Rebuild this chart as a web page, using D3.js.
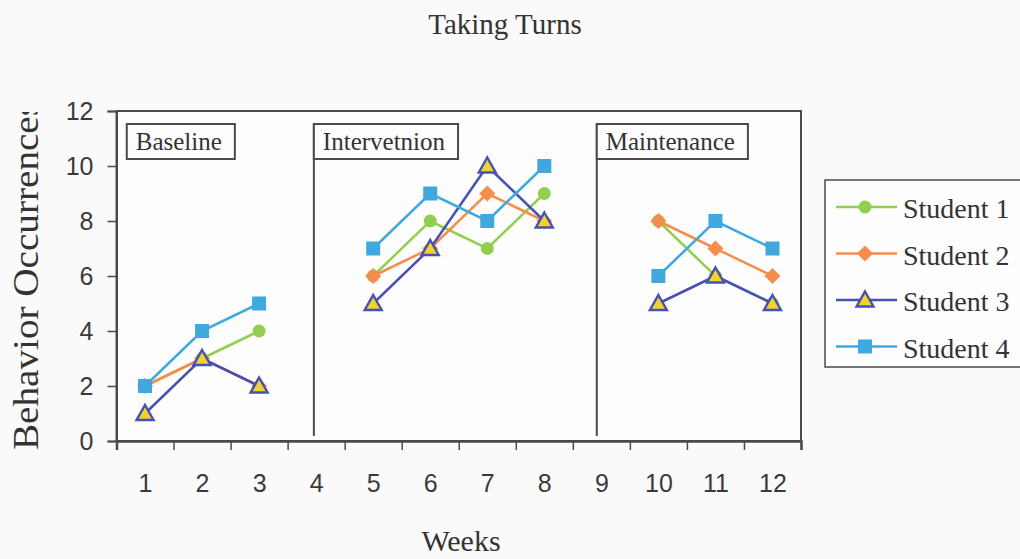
<!DOCTYPE html>
<html>
<head>
<meta charset="utf-8">
<script src="https://cdn.jsdelivr.net/npm/d3@7"></script>
<style>
  html, body { margin: 0; padding: 0; background: #fafafa; }
  svg { display: block; }
</style>
</head>
<body>
<svg id="chart" width="1020" height="559"></svg>
<script>
// ---- data ----
const weeks = [1, 2, 3, 4, 5, 6, 7, 8, 9, 10, 11, 12];
const student1 = [2, 3, 4, null, 6, 8, 7, 9, null, 8, 6, 5];
const student2 = [2, 3, 2, null, 6, 7, 9, 8, null, 8, 7, 6];
const student3 = [1, 3, 2, null, 5, 7, 10, 8, null, 5, 6, 5];
const student4 = [2, 4, 5, null, 7, 9, 8, 10, null, 6, 8, 7];
const seriesNames = ["Student 1", "Student 2", "Student 3", "Student 4"];
const yTicks = [0, 2, 4, 6, 8, 10, 12];
const phaseNames = ["Baseline", "Intervetnion", "Maintenance"];
const phaseLabelAt = [0.68, 3.96, 8.92];   // week position of each phase label box
const phaseLinesAt = [3.96, 8.92];         // week position of phase change lines

const title = "Taking Turns";
const xTitle = "Weeks";
const yTitle = "Behavior Occurrences";

// ---- layout ----
const serif = "'Liberation Serif', 'Times New Roman', serif";
const sans = "'Liberation Sans', Arial, sans-serif";
const textCol = "#333";
const axisCol = "#4a4a4a";
const plot = { left: 116.5, right: 801, top: 111, bottom: 441 };

const styles = [
  { color: "#92cf4e", shape: "circle" },
  { color: "#f58d4c", shape: "diamond" },
  { color: "#4651b3", shape: "triangle", fill: "#f2d428" },
  { color: "#3fa8de", shape: "square" }
];

const svg = d3.select("#chart");
const x = d3.scaleLinear().domain([0.5, 12.5]).range([plot.left, plot.right]);
const y = d3.scaleLinear().domain([0, 12]).range([plot.bottom, plot.top]);

// title
svg.append("text").attr("x", 505).attr("y", 34).attr("text-anchor", "middle")
  .attr("font-family", serif).attr("font-size", 29).attr("fill", textCol).text(title);

// plot frame
svg.append("rect").attr("x", plot.left).attr("y", plot.top)
  .attr("width", plot.right - plot.left).attr("height", plot.bottom - plot.top)
  .attr("fill", "#fdfdfd").attr("stroke", axisCol).attr("stroke-width", 2);

// y axis
const yAxis = svg.append("g").attr("transform", `translate(${plot.left},0)`)
  .call(d3.axisLeft(y).tickValues(yTicks).tickSize(9).tickPadding(14).tickFormat(d3.format("d")));
yAxis.select(".domain").attr("stroke", axisCol).attr("stroke-width", 2);
yAxis.selectAll(".tick line").attr("stroke", axisCol).attr("stroke-width", 1.5);
yAxis.selectAll(".tick text").attr("font-family", sans).attr("font-size", 25).attr("fill", "#3a3a3a");

// x axis: boundary ticks
const xTickAxis = svg.append("g").attr("transform", `translate(0,${plot.bottom})`)
  .call(d3.axisBottom(x).tickValues(d3.range(0.5, 12.6, 1)).tickSize(9).tickFormat(""));
xTickAxis.select(".domain").attr("stroke", axisCol).attr("stroke-width", 2.5);
xTickAxis.selectAll(".tick line").attr("stroke", axisCol).attr("stroke-width", 1.5);
// x axis: labels at category centres
const xLabAxis = svg.append("g").attr("transform", `translate(0,${plot.bottom})`)
  .call(d3.axisBottom(x).tickValues(weeks).tickSize(0).tickPadding(33).tickFormat(d3.format("d")));
xLabAxis.select(".domain").remove();
xLabAxis.selectAll(".tick text").attr("font-family", sans).attr("font-size", 25).attr("fill", "#3a3a3a");

// axis titles
svg.append("text").attr("x", 461).attr("y", 551).attr("text-anchor", "middle")
  .attr("font-family", serif).attr("font-size", 30).attr("fill", textCol).text(xTitle);

svg.append("clipPath").attr("id", "yclip").append("rect")
  .attr("x", 0).attr("y", 112).attr("width", 100).attr("height", 400);
svg.append("g").attr("clip-path", "url(#yclip)")
  .append("text")
  .attr("transform", "translate(38,450) rotate(-90)")
  .attr("text-anchor", "start")
  .attr("font-family", serif).attr("font-size", 35).attr("fill", textCol)
  .attr("textLength", 349).attr("lengthAdjust", "spacingAndGlyphs")
  .text(yTitle);

// phase lines
svg.selectAll(".phase-line").data(phaseLinesAt).enter().append("line")
  .attr("x1", d => x(d)).attr("x2", d => x(d))
  .attr("y1", 124).attr("y2", 436)
  .attr("stroke", axisCol).attr("stroke-width", 2);

// phase label boxes
phaseNames.forEach((name, i) => {
  const g = svg.append("g");
  const bx = x(phaseLabelAt[i]);
  const rect = g.append("rect").attr("x", bx).attr("y", 124).attr("height", 35)
    .attr("fill", "#fdfdfd").attr("stroke", axisCol).attr("stroke-width", 2);
  const t = g.append("text").attr("x", bx + 9).attr("y", 150)
    .attr("font-family", serif).attr("font-size", 25).attr("fill", textCol).text(name);
  const w = t.node().getComputedTextLength();
  rect.attr("width", w + 22);
});

// markers
function drawMarker(sel, shape, color, fill) {
  if (shape === "circle") {
    sel.append("circle").attr("r", 6.5).attr("fill", color);
  } else if (shape === "square") {
    sel.append("rect").attr("x", -7).attr("y", -7).attr("width", 14).attr("height", 14).attr("fill", color);
  } else if (shape === "diamond") {
    sel.append("path").attr("d", "M0,-8L8,0L0,8L-8,0Z").attr("fill", color);
  } else if (shape === "triangle") {
    sel.append("path").attr("d", "M0,-8.5L8.5,6.5L-8.5,6.5Z").attr("fill", fill)
      .attr("stroke", color).attr("stroke-width", 2.4).attr("stroke-linejoin", "miter");
  }
}

const allSeries = [student1, student2, student3, student4];
const line = d3.line().defined(d => d.v !== null).x(d => x(d.w)).y(d => y(d.v));

allSeries.forEach((vals, i) => {
  const pts = weeks.map((w, j) => ({ w, v: vals[j] }));
  const g = svg.append("g");
  g.append("path").datum(pts).attr("d", line)
    .attr("fill", "none").attr("stroke", styles[i].color).attr("stroke-width", 2.5);
  g.selectAll("g.m").data(pts.filter(d => d.v !== null)).enter().append("g")
    .attr("transform", d => `translate(${x(d.w)},${y(d.v)})`)
    .each(function () { drawMarker(d3.select(this), styles[i].shape, styles[i].color, styles[i].fill); });
});

// legend
const lg = svg.append("g");
lg.append("rect").attr("x", 825).attr("y", 180).attr("width", 220).attr("height", 187)
  .attr("fill", "#fdfdfd").attr("stroke", axisCol).attr("stroke-width", 1.5);
seriesNames.forEach((name, i) => {
  const ly = 207 + i * 46.5;
  lg.append("line").attr("x1", 836).attr("x2", 897).attr("y1", ly).attr("y2", ly)
    .attr("stroke", styles[i].color).attr("stroke-width", 2.5);
  const m = lg.append("g").attr("transform", `translate(865,${ly})`);
  drawMarker(m, styles[i].shape, styles[i].color, styles[i].fill);
  lg.append("text").attr("x", 903).attr("y", ly + 11)
    .attr("font-family", serif).attr("font-size", 28).attr("fill", textCol).text(name);
});
</script>
</body>
</html>
